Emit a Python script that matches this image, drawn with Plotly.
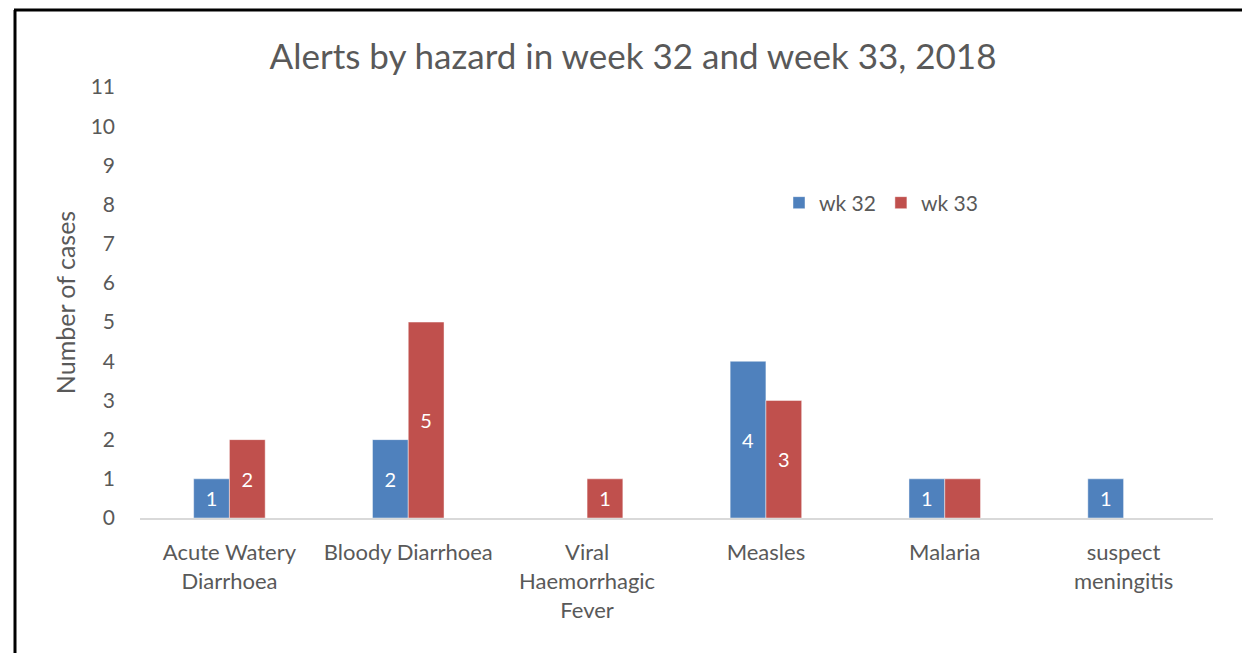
import plotly.graph_objects as go

categories = ["Acute Watery<br>Diarrhoea", "Bloody Diarrhoea", "Viral<br>Haemorrhagic<br>Fever",
              "Measles", "Malaria", "suspect<br>meningitis"]
wk32 = [1, 2, None, 4, 1, 1]
wk33 = [2, 5, 1, 3, 1, None]
wk32_labels = ["1", "2", "", "4", "1", "1"]
wk33_labels = ["2", "5", "1", "3", "", ""]
y_ticks = list(range(0, 12))

W, H = 1242, 653
L, R, T, B = 140, 29, 87, 135
pw, ph = W - L - R, H - T - B
FONT = "Lato"
GREY = "#595959"

fig = go.Figure()
fig.add_trace(go.Bar(name="wk 32", x=categories, y=wk32, text=wk32_labels,
                     marker=dict(color="#4F81BD", line=dict(color="rgba(255,255,255,0.45)", width=1)),
                     textposition="inside", insidetextanchor="middle",
                     textfont=dict(color="white", size=20, family=FONT)))
fig.add_trace(go.Bar(name="wk 33", x=categories, y=wk33, text=wk33_labels,
                     marker=dict(color="#C0504D", line=dict(color="rgba(255,255,255,0.45)", width=1)),
                     textposition="inside", insidetextanchor="middle",
                     textfont=dict(color="white", size=20, family=FONT)))

def px_x(x):
    return (x - L) / pw

def px_y(y):
    return (H - B - y) / ph

fig.update_layout(
    width=W, height=H,
    margin=dict(l=L, r=R, t=T, b=B),
    paper_bgcolor="white", plot_bgcolor="white",
    barmode="group", bargap=0.6, bargroupgap=0,
    font=dict(family=FONT, color=GREY, size=21),
    title=dict(text="Alerts by hazard in week 32 and week 33, 2018",
               x=633 / W, xref="container", xanchor="center",
               y=1 - 57 / H, yanchor="middle",
               font=dict(size=35, color=GREY, family=FONT)),
    legend=dict(orientation="h", x=px_x(779), xanchor="left",
                y=px_y(203), yanchor="middle",
                font=dict(size=21, color=GREY, family=FONT),
                bgcolor="rgba(0,0,0,0)", itemwidth=30),
    xaxis=dict(showgrid=False, showline=True, linecolor="#D9D9D9", linewidth=2,
               ticks="", tickfont=dict(size=22, color=GREY), ticklabelstandoff=14),
    yaxis=dict(range=[0, 11], tickvals=y_ticks, showgrid=False, zeroline=False,
               showline=False, ticks="", tickfont=dict(size=21, color=GREY),
               ticklabelstandoff=24,
               title=dict(text="Number of cases", font=dict(size=25, color=GREY),
                          standoff=7)),
    shapes=[
        dict(type="line", xref="paper", yref="paper",
             x0=px_x(15), x1=px_x(15), y0=px_y(10), y1=px_y(H + 5),
             line=dict(color="black", width=3)),
        dict(type="line", xref="paper", yref="paper",
             x0=px_x(14), x1=px_x(W + 5), y0=px_y(10), y1=px_y(10),
             line=dict(color="black", width=3)),
    ],
)

fig.write_html("out.html", config={"displayModeBar": False},
               post_script="document.body.style.margin='0';document.body.style.overflow='hidden';")
